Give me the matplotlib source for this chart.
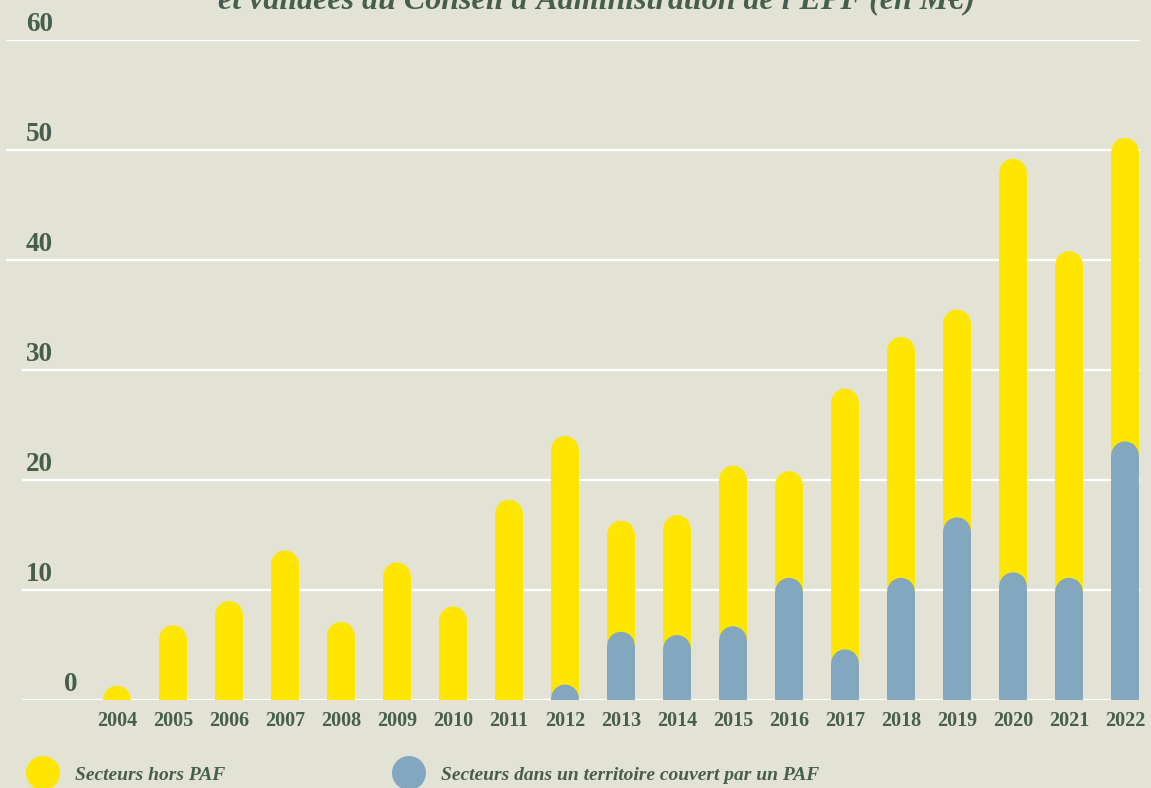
import matplotlib
matplotlib.use("Agg")
import matplotlib.pyplot as plt
from matplotlib.patches import Rectangle, Ellipse

years = ["2004", "2005", "2006", "2007", "2008", "2009", "2010", "2011", "2012", "2013",
         "2014", "2015", "2016", "2017", "2018", "2019", "2020", "2021", "2022"]
paf = [0, 0, 0, 0, 0, 0, 0, 0, 1.4, 6.2, 5.9, 6.7, 11.1, 4.6, 11.1, 16.6, 11.6, 11.1, 23.5]
hors_paf = [1.3, 6.8, 9.0, 13.6, 7.1, 12.5, 8.5, 18.2, 22.6, 10.1, 10.9, 14.6, 9.7, 23.7, 21.9, 18.9, 37.6, 29.7, 27.6]
yticks = [0, 10, 20, 30, 40, 50, 60]
title = "et validées du Conseil d'Administration de l'EPF (en M€)"
legend_labels = ["Secteurs hors PAF", "Secteurs dans un territoire couvert par un PAF"]

BG = "#E3E3D5"
YELLOW = "#FFE600"
BLUE = "#83A7BF"
TXT = "#475E4E"
SERIF = ["Liberation Serif", "DejaVu Serif"]

W, H = 1151, 788
fig = plt.figure(figsize=(W / 100, H / 100), dpi=100)
fig.patch.set_facecolor(BG)

# axes pixel geometry
px_left, px_right = 6, 1140
px_y0, px_y60 = 700, 40
ax = fig.add_axes([px_left / W, (H - px_y0) / H, (px_right - px_left) / W, (px_y0 - px_y60) / H])
ax.set_facecolor("none")
x0_px, step_px = 117, 56
ax.set_xlim((px_left - x0_px) / step_px, (px_right - x0_px) / step_px)
ax.set_ylim(0, 60)
for s in ax.spines.values():
    s.set_visible(False)
ax.set_xticks([])
ax.set_yticks([])

# gridlines
for v in yticks:
    xmin = 0.0 if v >= 40 else (23 - px_left) / (px_right - px_left)
    ax.axhline(v, xmin=xmin, xmax=1, color="white", lw=1.6, zorder=1)

bar_w = 27.5 / step_px
px_per_unit = (px_y0 - px_y60) / 60.0
ry = (27.5 / 2) / px_per_unit


def rounded_bar(x, top, color, z):
    if top <= 0:
        return
    body = top - ry
    if body > 0:
        ax.add_patch(Rectangle((x - bar_w / 2, 0), bar_w, body, facecolor=color,
                               edgecolor="none", zorder=z))
    ax.add_patch(Ellipse((x, body), bar_w, 2 * ry, facecolor=color, edgecolor="none", zorder=z))


for i, (h, p) in enumerate(zip(hors_paf, paf)):
    rounded_bar(i, h + p, YELLOW, 2)
    rounded_bar(i, p, BLUE, 3)

# x labels
for i, yr in enumerate(years):
    fig.text((x0_px + step_px * i) / W, 1 - 721 / H, yr, ha="center", va="center",
             fontsize=14.5, fontweight="bold", family=SERIF, color=TXT)

# y labels
for v in yticks:
    ypix = px_y0 - v * px_per_unit - 9
    xpix = 64 if v == 0 else 26
    fig.text(xpix / W, 1 - ypix / H, str(v), ha="left", va="baseline",
             fontsize=19.5, fontweight="bold", family=SERIF, color=TXT)

# title (partially cut, as in the original)
fig.text(596 / W, 1 - 8 / H, title, ha="center", va="baseline", fontsize=23,
         fontweight="bold", style="italic", family=SERIF, color=TXT)

# legend
for cx, tx, col, lab in [(43, 75, YELLOW, legend_labels[0]), (409, 441, BLUE, legend_labels[1])]:
    fig.add_artist(Ellipse((cx / W, 1 - 773 / H), 34 / W, 34 / H, transform=fig.transFigure,
                           facecolor=col, edgecolor="none"))
    fig.text(tx / W, 1 - 776 / H, lab, ha="left", va="center", fontsize=14,
             fontweight="bold", style="italic", family=SERIF, color=TXT)

fig.savefig("out.png", dpi=100, facecolor=BG)
